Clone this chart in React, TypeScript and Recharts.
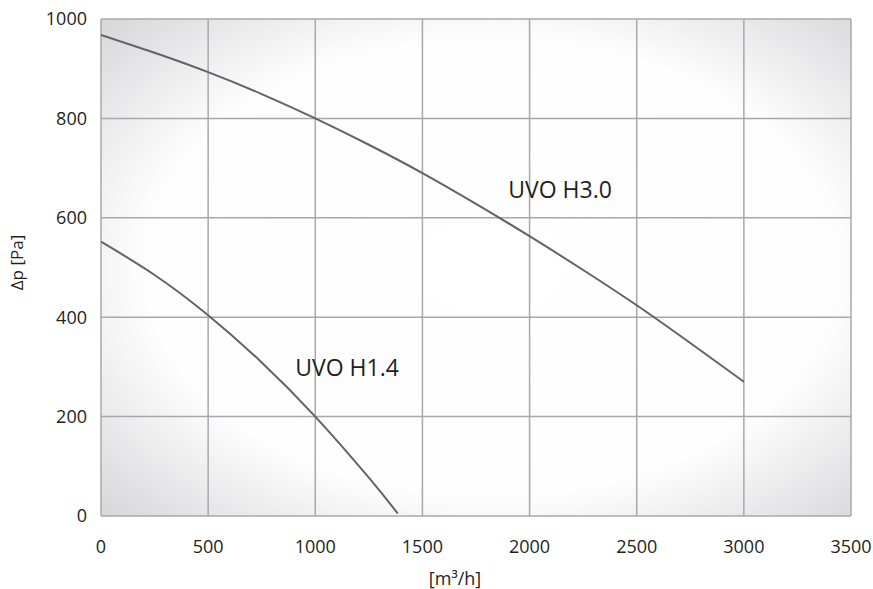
import React from "react";
import {
  LineChart,
  Line,
  XAxis,
  YAxis,
  CartesianGrid,
  ReferenceDot,
  Label,
} from "recharts";

// flow [m3/h] and pressure [Pa]
const flowH30 = [0, 250, 500, 750, 1000, 1250, 1500, 1750, 2000, 2250, 2500, 2750, 3000];
const pressH30 = [968, 932, 893, 849, 800, 747, 690, 628, 563, 495, 424, 348, 270];

const flowH14 = [0, 250, 500, 750, 1000, 1250, 1385];
const pressH14 = [552, 485, 404, 309, 200, 77, 5];

const xTicks = [0, 500, 1000, 1500, 2000, 2500, 3000, 3500];
const yTicks = [0, 200, 400, 600, 800, 1000];

const h30 = flowH30.map((x, i) => ({ x, p: pressH30[i] }));
const h14 = flowH14.map((x, i) => ({ x, p: pressH14[i] }));

const font = "'Open Sans', 'Noto Sans', sans-serif";
const tickStyle = { fontSize: 18, fill: "#231f20", fontFamily: font };

function XTitle(props: any) {
  const { viewBox } = props;
  const cx = viewBox.x + viewBox.width / 2 - 21;
  return (
    <text x={cx} y={585} textAnchor="middle" fontSize={18} fill="#231f20" fontFamily={font}>
      [m³/h]
    </text>
  );
}

export default function App() {
  return (
    <div style={{ position: "absolute", left: 0, top: 0, background: "#fff" }}>
      <LineChart
        width={873}
        height={589}
        margin={{ top: 19, right: 22, left: 41, bottom: 0 }}
      >
        <defs>
          <radialGradient id="plotBg" cx="52%" cy="50%" r="75%">
            <stop offset="0%" stopColor="#ffffff" />
            <stop offset="62%" stopColor="#fdfdfd" />
            <stop offset="100%" stopColor="#d2d2d5" />
          </radialGradient>
        </defs>
        <CartesianGrid fill="url(#plotBg)" stroke="#a8a8ac" strokeWidth={1.5} />
        <XAxis
          type="number"
          dataKey="x"
          domain={[0, 3500]}
          ticks={xTicks}
          allowDataOverflow
          axisLine={false}
          tickLine={false}
          tickMargin={18}
          height={73}
          tick={tickStyle}
          interval={0}
        >
          <Label content={<XTitle />} position="insideBottom" />
        </XAxis>
        <YAxis
          type="number"
          domain={[0, 1000]}
          ticks={yTicks}
          axisLine={false}
          tickLine={false}
          tickMargin={8}
          width={60}
          tick={tickStyle}
          interval={0}
        >
          <Label
            value="Δp [Pa]"
            angle={-90}
            position="insideLeft"
            offset={-24}
            dy={-5}
            style={{ fontSize: 17, fill: "#231f20", fontFamily: font, textAnchor: "middle" }}
          />
        </YAxis>
        <Line
          data={h30}
          dataKey="p"
          type="natural"
          stroke="#636365"
          strokeWidth={2}
          dot={false}
          isAnimationActive={false}
        />
        <Line
          data={h14}
          dataKey="p"
          type="natural"
          stroke="#636365"
          strokeWidth={2}
          dot={false}
          isAnimationActive={false}
        />
        <ReferenceDot
          x={2142}
          y={656}
          r={0}
          fill="none"
          stroke="none"
          label={{
            value: "UVO H3.0",
            position: "center",
            fontSize: 23,
            fill: "#231f20",
            fontFamily: font,
          }}
        />
        <ReferenceDot
          x={1148}
          y={298}
          r={0}
          fill="none"
          stroke="none"
          label={{
            value: "UVO H1.4",
            position: "center",
            fontSize: 23,
            fill: "#231f20",
            fontFamily: font,
          }}
        />
      </LineChart>
    </div>
  );
}
